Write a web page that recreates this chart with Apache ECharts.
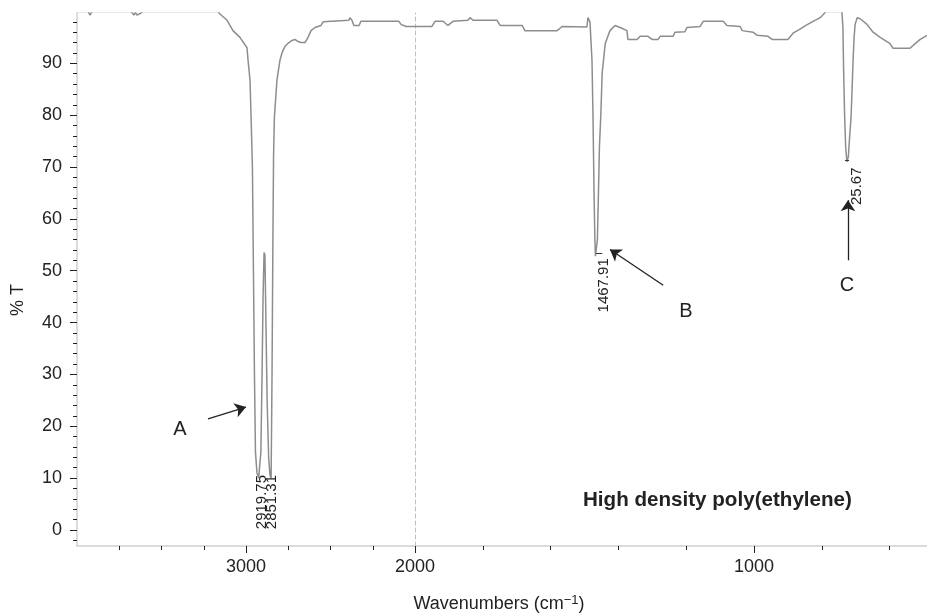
<!DOCTYPE html>
<html><head><meta charset="utf-8">
<script src="https://cdn.jsdelivr.net/npm/echarts@6/dist/echarts.min.js"></script>
<style>html,body{margin:0;padding:0;background:#fff}#c{width:927px;height:614px}</style>
</head><body><div id="c"></div>
<script>
// ---- data: wavenumbers (cm^-1) and %T, region above 2000 (compressed scale) ----
const wnHigh = [4000,3935,3923,3911,3680,3663,3654,3645,3627,3609,3166,3154,3112,3077,3036,2994,2988,2976,2970,2962,2956,2950,2944,2935,2925,2919.75,2912,2905,2899,2893,2888,2882,2875,2866,2858,2851.31,2846,2841,2837,2832,2817,2799,2787,2769,2746,2728,2710,2692,2675,2651,2633,2615,2592,2556,2544,2533,2391,2385,2373,2362,2331,2320,2095,2083,2053,2000];
const tHigh = [100,100,99.3,100,100,99.3,99.8,99.3,99.6,100,100,99.5,98.3,96.3,95.0,93.0,90.6,86.7,79.6,70,50,30,15,11,10,10,15,30,45,53.5,53,40,25,14,10.5,10,30,55,72,79.6,86.7,90.6,92.0,93.3,94.0,94.4,94.6,94.2,94.0,94.0,95.0,96.3,96.9,97.3,98.0,98.3,98.3,98.8,98.3,97.3,97.3,98.1,98.1,97.5,97.1,97.1];
// ---- region below 2000 ----
const wnLow = [2000,1950,1941,1917,1903,1888,1844,1838,1829,1758,1749,1684,1676,1581,1566,1493,1490,1484,1478,1475,1472,1469.5,1467.91,1462,1459,1456,1452,1448,1439,1425,1410,1395,1375,1372,1345,1336,1313,1301,1283,1277,1239,1233,1204,1198,1159,1150,1091,1080,1041,1035,1003,991,959,947,900,885,867,847,826,805,796,788,741,738,736,733,730,727,725.67,722,718,714,711,708,705,702,696,687,667,649,628,599,590,540,525,510,490];
const tLow = [97.1,97.1,98.1,98.1,97.3,98.1,98.3,98.8,98.3,98.3,97.3,97.3,96.3,96.3,97.1,97.0,98.8,98.0,90.6,79.6,65,56,52.8,56,65,74,80,88.1,93.8,96.3,97.3,96.9,96.3,94.6,94.6,95.2,95.2,94.6,94.6,95.2,95.2,96.0,96.1,96.9,97.1,98.1,98.1,97.3,97.1,96.3,96.0,95.4,95.2,94.6,94.6,95.8,96.5,97.3,98.1,98.8,99.4,100,100,97,89,80,74,71.5,71,72,76,79.6,85,90.6,95,97.5,98.8,98.6,97.5,96.0,95.0,93.8,92.9,92.9,93.8,94.6,95.4];
// ---- ticks ----
const xMajorHigh = [3000];
const xMinorHigh = [2250,2500,2750,3250,3500,3750];
const xMajorLow = [2000,1000];
const xMinorLow = [1800,1600,1400,1200,800,600];
const yMajor = [0,10,20,30,40,50,60,70,80,90];
const yMinor = [-2,2,4,6,8,12,14,16,18,22,24,26,28,32,34,36,38,42,44,46,48,52,54,56,58,62,64,66,68,72,74,76,78,82,84,86,88,92,94,96,98];
// ---- texts ----
const peakTexts = ['2919.75','2851.31','1467.91','25.67'];
const bandLetters = ['A','B','C'];
const sampleName = 'High density poly(ethylene)';
const yName = '% T';

const FONT = '"Liberation Sans", Arial, Helvetica, sans-serif';
const INK = '#222';
const AXIS = '#d0d0d0';
const LINE = '#8d8d8d';
const Y_MIN = -3.1, Y_MAX = 99.7;

const chart = echarts.init(document.getElementById('c'));

function majorX(grid, min, max, vals){
  return {gridIndex:grid, type:'value', min:min, max:max, inverse:true, position:'bottom',
    axisLine:{show:true, onZero:false, lineStyle:{color:AXIS, width:1.5}},
    axisTick:{show:true, customValues:vals, length:7, lineStyle:{color:INK, width:1}},
    axisLabel:{show:true, customValues:vals, fontSize:18, color:INK, margin:12, fontFamily:FONT,
      formatter:(v)=>String(v)},
    splitLine:{show:false}};
}
function minorX(grid, min, max, vals){
  return {gridIndex:grid, type:'value', min:min, max:max, inverse:true, position:'bottom',
    axisLine:{show:false, onZero:false},
    axisTick:{show:true, customValues:vals, length:4, lineStyle:{color:INK, width:1}},
    axisLabel:{show:false}, splitLine:{show:false}};
}
const rotLabel = (txt) => ({show:true, formatter:txt, rotate:90, align:'right', verticalAlign:'middle',
  position:'inside', fontSize:15, color:INK, fontFamily:FONT});
const letterLabel = (txt) => ({show:true, formatter:txt, position:'inside', fontSize:20, color:INK, fontFamily:FONT});
const arrowStyle = {color:INK, width:1.3, type:'solid'};
const dashStyle = {color:'#333', width:1, type:'solid'};

const option = {
  animation:false,
  backgroundColor:'#fff',
  grid:[{left:77, top:13, width:338, bottom:68},{left:415, top:13, right:0, bottom:68}],
  xAxis:[
    majorX(0,2000,4000,xMajorHigh), minorX(0,2000,4000,xMinorHigh),
    majorX(1,490,2000,xMajorLow), minorX(1,490,2000,xMinorLow)
  ],
  yAxis:[
    {gridIndex:0, type:'value', min:Y_MIN, max:Y_MAX, position:'left',
     axisLine:{show:true, onZero:false, lineStyle:{color:AXIS, width:1.5}},
     axisTick:{show:true, customValues:yMajor, length:7, lineStyle:{color:INK}},
     axisLabel:{show:true, customValues:yMajor, fontSize:18, color:INK, margin:15, fontFamily:FONT},
     splitLine:{show:false}},
    {gridIndex:0, type:'value', min:Y_MIN, max:Y_MAX, position:'left',
     axisLine:{show:false, onZero:false},
     axisTick:{show:true, customValues:yMinor, length:4, lineStyle:{color:INK}},
     axisLabel:{show:false}, splitLine:{show:false}},
    {gridIndex:1, type:'value', min:Y_MIN, max:Y_MAX, position:'left',
     axisLine:{show:true, onZero:false, lineStyle:{color:'#bdbdbd', width:1, type:[4,3]}},
     axisTick:{show:false}, axisLabel:{show:false}, splitLine:{show:false}}
  ],
  series:[
    {type:'line', xAxisIndex:0, yAxisIndex:0, data:wnHigh.map((w,i)=>[w,tHigh[i]]),
     symbol:'none', clip:true, lineStyle:{color:LINE, width:1.5}, z:3,
     markPoint:{symbol:'circle', symbolSize:0, silent:true, data:[
       {coord:[3391,19.3], label:letterLabel(bandLetters[0])},
       {coord:[2905,10.6], label:rotLabel(peakTexts[0])},
       {coord:[2846,10.6], label:rotLabel(peakTexts[1])}
     ]},
     markLine:{silent:true, symbol:['none','arrow'], symbolSize:11, label:{show:false},
       lineStyle:arrowStyle, data:[[{coord:[3225,21.4]},{coord:[3000,23.7]}]]}
    },
    {type:'line', xAxisIndex:2, yAxisIndex:2, data:wnLow.map((w,i)=>[w,tLow[i]]),
     symbol:'none', clip:true, lineStyle:{color:LINE, width:1.5}, z:3,
     markPoint:{symbol:'circle', symbolSize:0, silent:true, data:[
       {coord:[1201,42.2], label:letterLabel(bandLetters[1])},
       {coord:[726,47.2], label:letterLabel(bandLetters[2])},
       {coord:[1442.5,52.4], label:rotLabel(peakTexts[2])},
       {coord:[696,69.9], label:rotLabel(peakTexts[3])}
     ]},
     markLine:{silent:true, symbol:['none','arrow'], symbolSize:11, label:{show:false},
       lineStyle:arrowStyle, data:[
         [{coord:[1268,47.2]},{coord:[1425,54.1]}],
         [{coord:[723,52.0]},{coord:[723,63.6]}],
         [{coord:[1466,53.3], symbol:'none'},{coord:[1448,53.3], symbol:'none', lineStyle:dashStyle}],
         [{coord:[732,71.3], symbol:'none'},{coord:[720,71.3], symbol:'none', lineStyle:dashStyle}]
       ]}
    }
  ],
  graphic:[
    {type:'text', x:18, y:300, rotation:Math.PI/2,
     style:{text:yName, font:'18px '+FONT, fill:INK, textAlign:'center', textVerticalAlign:'middle'}},
    {type:'text', x:583, y:500,
     style:{text:sampleName, font:'bold 20.6px '+FONT, fill:INK, textAlign:'left', textVerticalAlign:'middle'}},
    {type:'text', x:499, y:604,
     style:{text:'Wavenumbers (cm{sup|−1})', font:'18px '+FONT, fill:INK, textAlign:'center', textVerticalAlign:'middle',
       rich:{sup:{fontSize:13, fontFamily:FONT, fill:INK, verticalAlign:'top', lineHeight:20, padding:[0,0,10,0]}}}}
  ]
};
chart.setOption(option);
</script>
</body></html>
